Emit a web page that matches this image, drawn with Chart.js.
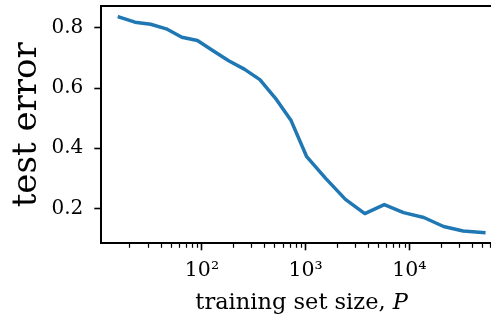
<!DOCTYPE html>
<html>
<head>
<meta charset="utf-8">
<script src="https://cdn.jsdelivr.net/npm/chart.js@4.4.1/dist/chart.umd.min.js"></script>
<style>
  html, body { margin: 0; padding: 0; background: #fff; }
  #wrap { width: 491px; height: 322px; overflow: hidden; }
</style>
</head>
<body>
<div id="wrap">
  <canvas id="myChart" width="502" height="322"></canvas>
</div>
<script>
// training set size P and test error
const trainSizes = [16, 22.6, 32, 45.3, 64, 90.5, 128, 181, 256, 362, 512, 724,
                    1024, 1560, 2420, 3720, 5730, 8800, 13800, 21400, 33000, 52300];
const testError = [0.836, 0.819, 0.812, 0.797, 0.769, 0.758, 0.724, 0.691, 0.663, 0.628, 0.566, 0.492,
                   0.372, 0.300, 0.230, 0.183, 0.213, 0.186, 0.170, 0.140, 0.125, 0.120];

// axes
const xRange = [10.7, 78300];
const yRange = [0.0842, 0.8718];
const yTicks = [0.2, 0.4, 0.6, 0.8];
const yTickLabels = ['0.2', '0.4', '0.6', '0.8'];
const xMajorTicks = [100, 1000, 10000];
const xTickLabels = ['10\u00B2', '10\u00B3', '10\u2074'];
const yTitle = 'test error';
const xTitleText = 'training set size, ';
const xTitleVar = 'P';

const FONT = '"DejaVu Serif", "Liberation Serif", serif';
const lineColor = '#1f77b4';

// shorter minor ticks on the log axis
const minorTicks = {
    id: 'minorTicks',
    afterDraw(chart) {
        const scale = chart.scales.x;
        const ctx = chart.ctx;
        ctx.save();
        ctx.strokeStyle = '#000';
        ctx.lineWidth = 1.2;
        scale.ticks.forEach(t => {
            if (xMajorTicks.includes(t.value)) return;
            const px = Math.round(scale.getPixelForValue(t.value)) + 0.5;
            ctx.beginPath();
            ctx.moveTo(px, scale.top);
            ctx.lineTo(px, scale.top + 4.5);
            ctx.stroke();
        });
        ctx.restore();
    }
};

// x axis title with an italic P
const xTitle = {
    id: 'xTitle',
    afterDraw(chart) {
        const ctx = chart.ctx;
        const area = chart.chartArea;
        ctx.save();
        const normal = '22.5px ' + FONT;
        const italic = 'italic 22.5px ' + FONT;
        ctx.font = normal;
        const w1 = ctx.measureText(xTitleText).width;
        ctx.font = italic;
        const w2 = ctx.measureText(xTitleVar).width;
        let x = (area.left + area.right) / 2 - (w1 + w2) / 2;
        const y = area.bottom + 66;
        ctx.fillStyle = '#000';
        ctx.textBaseline = 'alphabetic';
        ctx.textAlign = 'left';
        ctx.font = normal;
        ctx.fillText(xTitleText, x, y);
        ctx.font = italic;
        ctx.fillText(xTitleVar, x + w1, y);
        ctx.restore();
    }
};

function isDecade(v) {
    const e = Math.log10(v);
    return Math.abs(e - Math.round(e)) < 1e-9;
}

const ctx = document.getElementById('myChart').getContext('2d');
const myChart = new Chart(ctx, {
    type: 'line',
    data: {
        datasets: [{
            label: 'test error',
            data: trainSizes.map((p, i) => ({ x: p, y: testError[i] })),
            borderColor: lineColor,
            borderWidth: 3.5,
            borderJoinStyle: 'round',
            borderCapStyle: 'square',
            pointRadius: 0,
            fill: false,
            tension: 0
        }]
    },
    options: {
        responsive: false,
        animation: false,
        devicePixelRatio: 1,
        layout: { padding: 0 },
        plugins: {
            legend: { display: false },
            tooltip: { enabled: false }
        },
        scales: {
            x: {
                type: 'logarithmic',
                position: 'bottom',
                min: xRange[0],
                max: xRange[1],
                afterBuildTicks: scale => {
                    // keep the 1..9 x 10^n ticks, drop the range ends
                    scale.ticks = scale.ticks.filter(t => {
                        const m = t.value / Math.pow(10, Math.floor(Math.log10(t.value) + 1e-9));
                        return Math.abs(m - Math.round(m)) < 1e-6 && t.value > xRange[0] && t.value < xRange[1];
                    });
                },
                afterFit: scale => {
                    scale.height = 78.7;
                    scale.paddingLeft = 0;
                    scale.paddingRight = 0;
                },
                border: { display: true, color: '#000', width: 2 },
                grid: {
                    display: true,
                    drawOnChartArea: false,
                    drawTicks: true,
                    tickLength: 7,
                    tickWidth: 1.6,
                    tickColor: c => (c.tick && isDecade(c.tick.value)) ? '#000' : 'rgba(0,0,0,0)'
                },
                ticks: {
                    autoSkip: false,
                    maxRotation: 0,
                    padding: 8,
                    color: '#000',
                    font: { family: FONT, size: 20.5 },
                    callback: v => {
                        const i = xMajorTicks.findIndex(m => Math.abs(m - v) < 1e-6 * m);
                        return i >= 0 ? xTickLabels[i] : '';
                    }
                }
            },
            xTop: {
                type: 'logarithmic',
                position: 'top',
                min: xRange[0],
                max: xRange[1],
                afterFit: scale => {
                    scale.height = 6.3;
                    scale.paddingLeft = 0;
                    scale.paddingRight = 0;
                },
                border: { display: true, color: '#000', width: 2 },
                grid: { display: false, drawTicks: false },
                ticks: { display: false }
            },
            y: {
                type: 'linear',
                position: 'left',
                min: yRange[0],
                max: yRange[1],
                afterBuildTicks: scale => {
                    scale.ticks = yTicks.map(v => ({ value: v }));
                },
                afterFit: scale => {
                    scale.width = 101.3;
                    scale.paddingTop = 0;
                    scale.paddingBottom = 0;
                },
                border: { display: true, color: '#000', width: 2 },
                grid: {
                    display: true,
                    drawOnChartArea: false,
                    drawTicks: true,
                    tickLength: 7,
                    tickWidth: 1.6,
                    tickColor: '#000'
                },
                ticks: {
                    padding: 11,
                    color: '#000',
                    font: { family: FONT, size: 20 },
                    callback: v => {
                        const i = yTicks.findIndex(t => Math.abs(t - v) < 1e-9);
                        return i >= 0 ? yTickLabels[i] : '';
                    }
                },
                title: {
                    display: true,
                    text: yTitle,
                    color: '#000',
                    font: { family: FONT, size: 34 },
                    padding: { top: 7, bottom: 0 }
                }
            }
        }
    },
    plugins: [minorTicks, xTitle]
});
</script>
</body>
</html>
